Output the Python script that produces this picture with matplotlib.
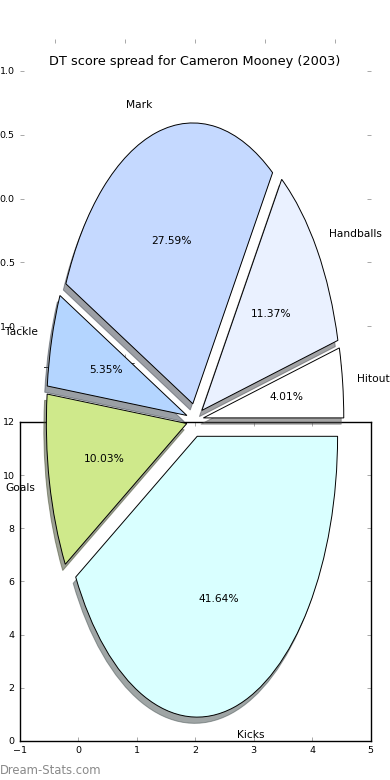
import matplotlib
matplotlib.use("Agg")
import matplotlib.pyplot as plt

# ---- data ----
labels = ["Hitout", "Handballs", "Mark", "Tackle", "Goals", "Kicks"]
values = [4.01, 11.37, 27.59, 5.35, 10.03, 41.64]
colors = ["#ffffff", "#eaf1ff", "#c5d9ff", "#b4d5ff", "#cfe98b", "#d9ffff"]
explode = [0.06] * 6
title = "DT score spread for Cameron Mooney (2003)"
bottom_xticks = [-1, 0, 1, 2, 3, 4, 5]
bottom_yticks = [0, 2, 4, 6, 8, 10, 12]
top_ticks = [-1.0, -0.5, 0.0, 0.5, 1.0]

plt.rcParams["font.family"] = ["DejaVu Sans"]
fig = plt.figure(figsize=(3.9, 7.8), dpi=100)
fig.subplots_adjust(left=0.05, right=0.95, bottom=0.05, top=0.95)

tick_kw = dict(direction="in", length=3, width=0.6, color="#9a9a9a",
               labelcolor="black", labelsize=6.8, pad=3.4,
               top=True, right=True)

# top (frameless) axes
ax_top = fig.add_subplot(211)
ax_top.set_frame_on(False)
ax_top.set_xlim(-1.25, 1.25)
ax_top.set_ylim(-1.25, 1.25)
ax_top.set_xticks(top_ticks)
ax_top.set_yticks(top_ticks)
ax_top.tick_params(**tick_kw)

# bottom empty axes
ax_bot = fig.add_subplot(212)
ax_bot.set_xlim(bottom_xticks[0], bottom_xticks[-1])
ax_bot.set_ylim(bottom_yticks[0], bottom_yticks[-1])
ax_bot.set_xticks(bottom_xticks)
ax_bot.set_yticks(bottom_yticks)
ax_bot.tick_params(**tick_kw)
for s in ax_bot.spines.values():
    s.set_linewidth(1.0)

# pie axes spanning the figure
ax_pie = fig.add_axes([0.05, 0.0115, 0.9, 0.9])
ax_pie.pie(values, labels=labels, colors=colors, explode=explode,
           autopct="%.2f%%", shadow=dict(ox=-0.013, oy=-0.016),
           labeldistance=1.1, pctdistance=0.6,
           wedgeprops=dict(edgecolor="black", linewidth=0.7),
           textprops=dict(fontsize=7.7))
ax_pie.set_aspect("auto")
ax_pie.set_xlim(-1.25, 1.25)
ax_pie.set_ylim(-1.25, 1.25)
ax_pie.axis("off")
ax_pie.set_title(title, fontsize=9.3, pad=3)

fig.text(0.0, 0.012, "Dream-Stats.com", fontsize=8.4, color="#8a8a8a",
         ha="left", va="center")

fig.savefig("out.png", dpi=100)
